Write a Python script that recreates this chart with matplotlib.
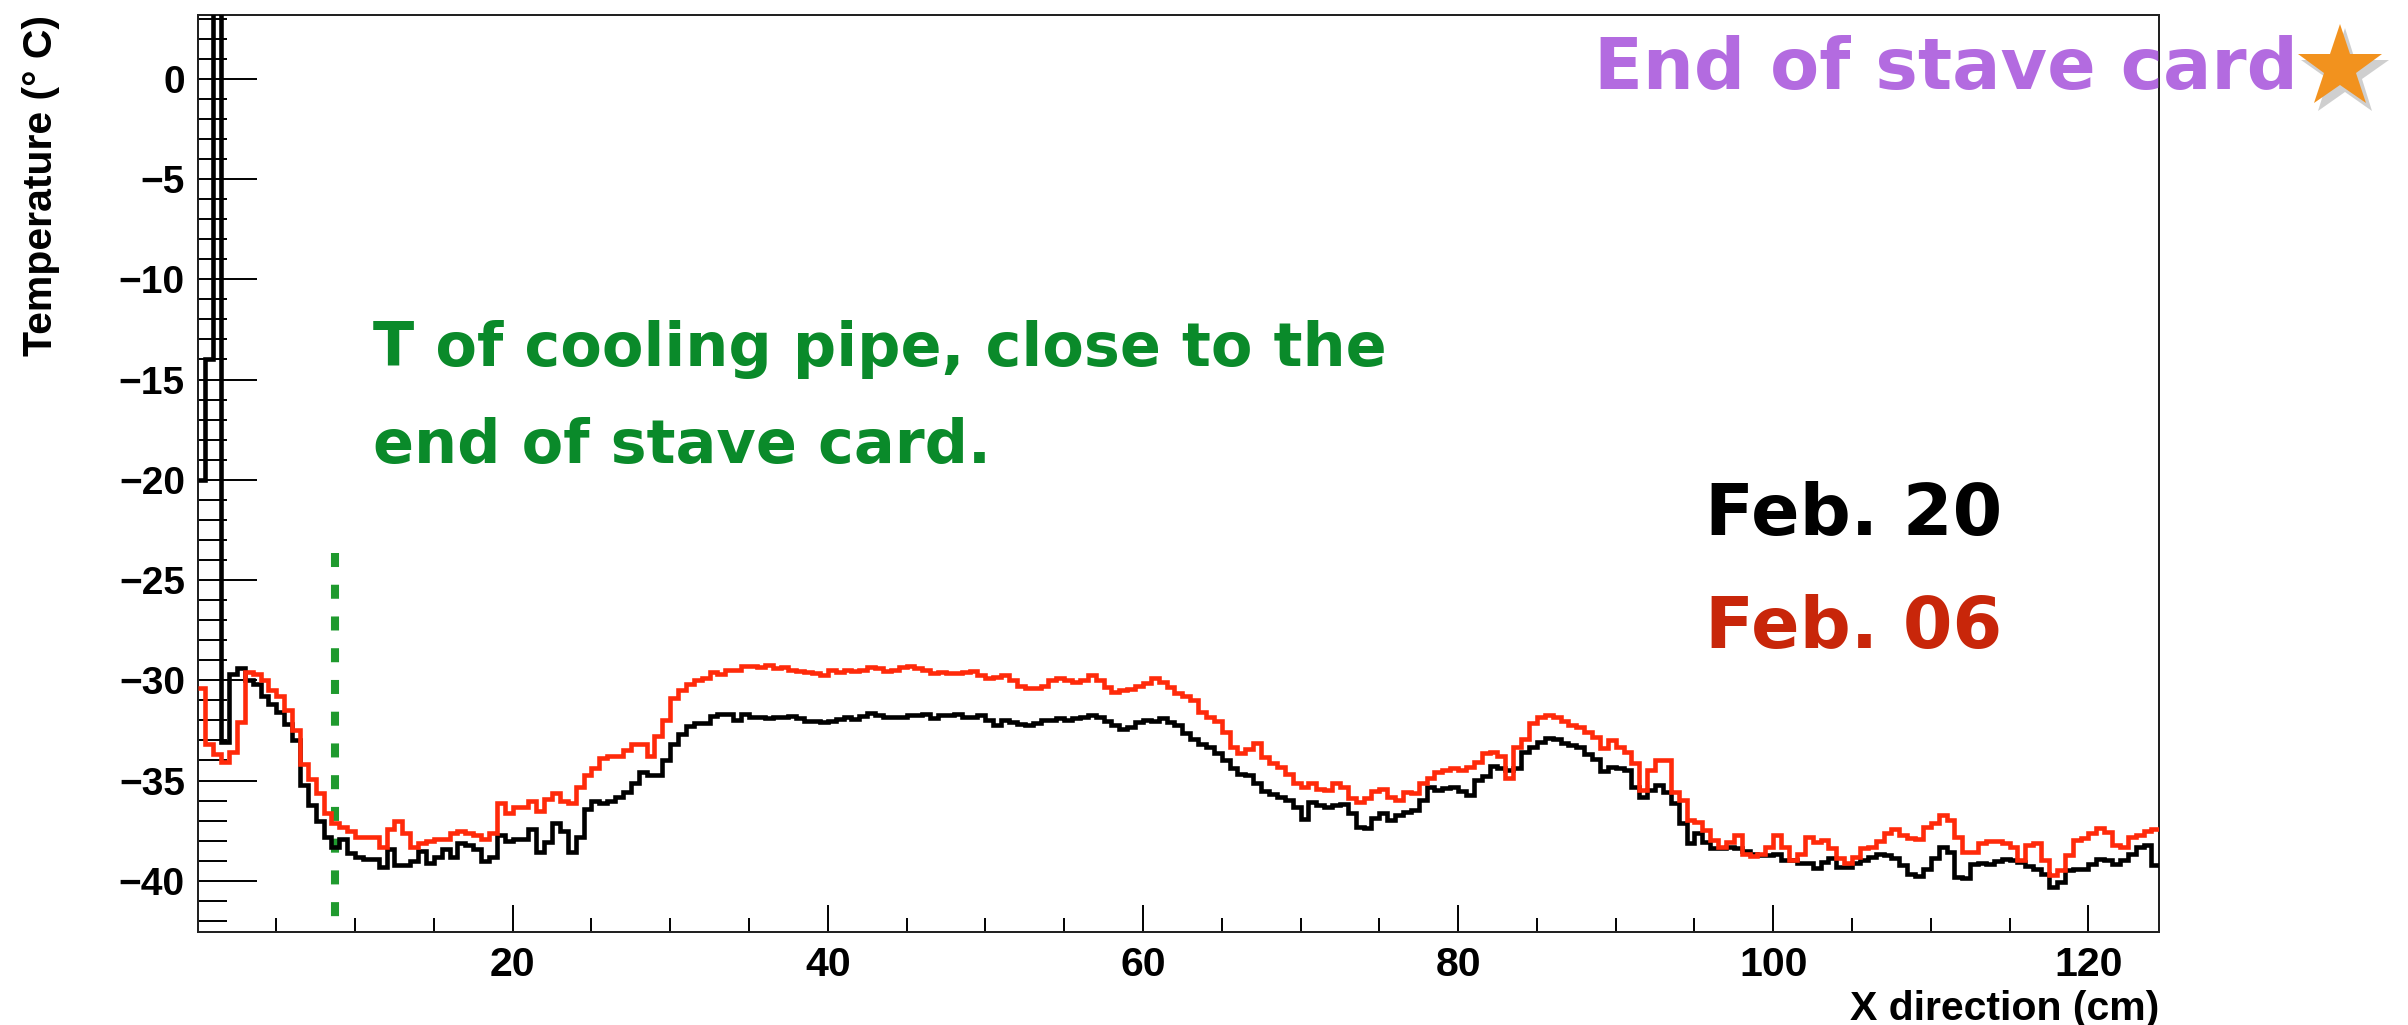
import numpy as np
import matplotlib
matplotlib.use("Agg")
import matplotlib.pyplot as plt
from matplotlib.lines import Line2D
from matplotlib.ticker import FixedLocator, MultipleLocator

# ------------------------------------------------------------------
# Temperature profile along the stave (°C), 0.5 cm bins, 0 -> 124.5 cm
# ------------------------------------------------------------------
X_MIN, X_MAX = 0.0, 124.5

temp_feb20 = [
    -20.0, -14.0, 8.0, -33.1, -29.7, -29.4, -30.0, -30.2, -30.8, -31.2,
    -31.6, -32.2, -33.0, -35.2, -36.2, -37.0, -37.8, -38.3, -37.9, -38.6,
    -38.8, -38.9, -38.9, -39.3, -38.4, -39.2, -39.2, -39.0, -38.5, -39.1,
    -38.8, -38.4, -38.8, -38.1, -38.2, -38.4, -39.0, -38.8, -37.7, -38.0,
    -37.9, -37.9, -37.4, -38.55, -38.05, -37.1, -37.5, -38.55, -37.8, -36.4,
    -36.0, -36.1, -36.0, -35.8, -35.55, -35.1, -34.6, -34.7, -34.7, -34.0,
    -33.2, -32.7, -32.3, -32.15, -32.15, -31.8, -31.7, -31.7, -32.0, -31.7,
    -31.85, -31.85, -31.9, -31.85, -31.85, -31.79, -31.9, -32.02, -32.02, -32.07,
    -32.02, -31.95, -31.85, -31.92, -31.79, -31.65, -31.74, -31.82, -31.85, -31.85,
    -31.74, -31.74, -31.69, -31.9, -31.74, -31.74, -31.69, -31.82, -31.85, -31.74,
    -31.99, -32.23, -31.99, -32.07, -32.18, -32.23, -32.12, -31.99, -31.99, -31.9,
    -31.99, -31.9, -31.82, -31.74, -31.85, -32.02, -32.23, -32.45, -32.32, -32.08,
    -31.99, -32.02, -31.9, -32.07, -32.23, -32.65, -32.95, -33.18, -33.35, -33.65,
    -33.98, -34.4, -34.65, -34.73, -35.14, -35.51, -35.69, -35.81, -35.98, -36.31,
    -36.9, -36.06, -36.2, -36.34, -36.22, -36.17, -36.64, -37.3, -37.39, -36.89,
    -36.64, -36.97, -36.72, -36.56, -36.47, -35.98, -35.31, -35.48, -35.39, -35.34,
    -35.51, -35.73, -34.98, -34.78, -34.26, -34.4, -34.48, -34.4, -33.56, -33.31,
    -33.07, -32.9, -32.95, -33.12, -33.23, -33.35, -33.68, -33.95, -34.51, -34.35,
    -34.36, -34.48, -35.31, -35.81, -35.48, -35.23, -35.56, -36.14, -37.14, -38.14,
    -37.64, -38.05, -38.39, -38.39, -38.3, -38.39, -38.5, -38.64, -38.72, -38.72,
    -38.64, -38.97, -38.97, -39.13, -39.13, -39.38, -39.05, -38.88, -39.3, -39.3,
    -39.13, -38.97, -38.8, -38.64, -38.72, -38.88,
    -39.22, -39.64, -39.77, -39.39, -38.84, -38.3, -38.55, -39.8, -39.88, -39.14,
    -39.09, -39.14, -39.0, -38.9, -38.94, -39.05, -39.25, -39.39, -39.64, -40.3,
    -40.05, -39.47, -39.39, -39.39, -39.14, -38.9, -38.97, -39.17, -38.97, -38.67,
    -38.34, -38.24, -39.22,
]

temp_feb06 = [
    -30.4, -33.2, -33.7, -34.1, -33.6, -32.1, -29.6, -29.7, -30.0, -30.5,
    -30.8, -31.5, -32.5, -34.2, -34.9, -35.6, -36.6, -37.1, -37.3, -37.5,
    -37.8, -37.8, -37.8, -38.3, -37.4, -37.0, -37.6, -38.3, -38.1, -38.0,
    -37.9, -37.9, -37.6, -37.5, -37.6, -37.7, -37.9, -37.6, -36.1, -36.6,
    -36.3, -36.3, -36.0, -36.5, -35.9, -35.6, -36.0, -36.1, -35.3, -34.7,
    -34.4, -33.9, -33.8, -33.8, -33.5, -33.2, -33.2, -33.8, -32.8, -32.0,
    -30.9, -30.5, -30.2, -30.0, -29.9, -29.6, -29.7, -29.5, -29.5, -29.3,
    -29.29, -29.32, -29.24, -29.41, -29.32, -29.49, -29.52, -29.57, -29.66, -29.74,
    -29.49, -29.57, -29.49, -29.52, -29.49, -29.32, -29.41, -29.52, -29.49, -29.32,
    -29.29, -29.41, -29.49, -29.66, -29.57, -29.62, -29.66, -29.57, -29.52, -29.74,
    -29.91, -29.82, -29.74, -29.99, -30.29, -30.41, -30.41, -30.29, -29.99, -29.91,
    -29.99, -30.07, -29.99, -29.74, -29.99, -30.36, -30.57, -30.49, -30.46, -30.29,
    -30.16, -29.91, -30.07, -30.36, -30.62, -30.79, -30.99, -31.57, -31.82, -32.02,
    -32.57, -33.31, -33.61, -33.45, -33.12, -33.81, -34.15, -34.31, -34.65, -35.11,
    -35.31, -35.14, -35.44, -35.48, -35.11, -35.31, -35.89, -36.06, -35.89, -35.51,
    -35.44, -35.81, -35.98, -35.56, -35.64, -35.14, -34.89, -34.56, -34.48, -34.4,
    -34.48, -34.31, -34.06, -33.65, -33.56, -33.78, -34.89, -33.31, -32.95, -32.15,
    -31.85, -31.74, -31.82, -32.02, -32.23, -32.35, -32.57, -32.82, -33.4, -32.98,
    -33.31, -33.56, -34.15, -35.48, -34.48, -33.98, -33.98, -35.56, -35.98, -36.97,
    -37.06, -37.47, -37.97, -38.3, -38.05, -37.72, -38.64, -38.77, -38.64, -38.3,
    -37.72, -38.3, -38.97, -38.67, -37.84, -38.05, -37.97, -38.39, -38.88, -39.13,
    -38.8, -38.39, -38.3, -38.0, -37.64, -37.44,
    -37.72, -37.89, -37.94, -37.31, -37.14, -36.72, -36.97, -37.8, -38.55, -38.55,
    -38.14, -38.0, -38.0, -38.14, -38.3, -38.97, -38.22, -38.14, -38.97, -39.72,
    -39.47, -38.72, -37.97, -37.89, -37.64, -37.39, -37.56, -38.22, -38.3, -37.84,
    -37.72, -37.5, -37.44,
]

# position of the cooling-pipe probe and the extent of its marker line
PIPE_X = 8.74
PIPE_Y = (-23.67, -41.8)

x_major = [20, 40, 60, 80, 100, 120]
x_minor = [v for v in range(5, 125, 5) if v % 20]

note_lines = ["T of cooling pipe, close to the", "end of stave card."]

# ------------------------------------------------------------------
W, H = 2408, 1025
plt.rcParams["font.family"] = "Liberation Sans"
plt.rcParams["font.weight"] = "bold"
plt.rcParams["axes.labelweight"] = "bold"

fig = plt.figure(figsize=(W / 100, H / 100), dpi=100)
fig.patch.set_facecolor("white")

def fx(px):
    return px / W

def fy(py):
    return 1 - py / H

ax_l, ax_r, ax_t, ax_b = 197.5, 2159.3, 15.0, 932.3
ax = fig.add_axes([fx(ax_l), fy(ax_b), (ax_r - ax_l) / W, (ax_b - ax_t) / H])

edges = np.linspace(X_MIN, X_MAX, len(temp_feb20) + 1)
ax.stairs(temp_feb20, edges, baseline=None, edgecolor="black", lw=3.3, zorder=3)
ax.stairs(temp_feb06, edges, baseline=None, edgecolor="#ff2a0a", lw=3.3, zorder=4)

ax.plot([PIPE_X, PIPE_X], PIPE_Y, color="#1f9a2e", lw=5.8,
        ls=(0, (1.74, 2.2)), dash_capstyle="butt", zorder=2)

ax.set_xlim(X_MIN, X_MAX)
ax.set_ylim(-42.57, 3.18)

ax.xaxis.set_major_locator(FixedLocator(x_major))
ax.xaxis.set_minor_locator(FixedLocator(x_minor))
ax.yaxis.set_major_locator(MultipleLocator(5))
ax.yaxis.set_minor_locator(MultipleLocator(1))

ax.tick_params(axis="x", which="major", direction="in", length=19.8, width=1.4,
               pad=10, labelsize=29.5, top=False)
ax.tick_params(axis="x", which="minor", direction="in", length=9.9, width=1.4, top=False)
ax.tick_params(axis="y", which="major", direction="in", length=42.5, width=1.4,
               pad=9, labelsize=28, right=False)
ax.tick_params(axis="y", which="minor", direction="in", length=21.2, width=1.4, right=False)

for sp in ax.spines.values():
    sp.set_linewidth(1.44)
    sp.set_color("#222222")

ax.set_xlabel("X direction (cm)", fontsize=29.5, fontweight="bold", loc="right")
ax.xaxis.set_label_coords(1.0, -(990 - ax_b) / (ax_b - ax_t))
ax.xaxis.label.set_verticalalignment("top")
ax.set_ylabel("Temperature (° C)", fontsize=29.5, fontweight="bold", loc="top")
ax.yaxis.set_label_coords(-(ax_l - 60) / (ax_r - ax_l), 1.0)

# annotations
hand = dict(family="DejaVu Sans", fontweight="bold")

fig.text(fx(1594), fy(89), "End of stave card", color="#b36be0", fontsize=51.5,
         ha="left", va="baseline", **hand)

star_xy = (fx(2340), fy(68))
shadow_xy = (fx(2345), fy(74))
fig.add_artist(Line2D([shadow_xy[0]], [shadow_xy[1]], marker="*", markersize=66,
                      color="#777777", alpha=0.35, markeredgewidth=0,
                      transform=fig.transFigure))
fig.add_artist(Line2D([star_xy[0]], [star_xy[1]], marker="*", markersize=63,
                      color="#f2921e", markeredgewidth=0, transform=fig.transFigure))

for i, line in enumerate(note_lines):
    fig.text(fx(373), fy(366 + 97 * i), line, color="#0a8a2a", fontsize=43.6,
             ha="left", va="baseline", **hand)

fig.text(fx(1705), fy(535), "Feb. 20", color="black", fontsize=51.5,
         ha="left", va="baseline", **hand)
fig.text(fx(1705), fy(648), "Feb. 06", color="#c8260a", fontsize=51.5,
         ha="left", va="baseline", **hand)

fig.savefig("out.png", dpi=100, facecolor="white")
